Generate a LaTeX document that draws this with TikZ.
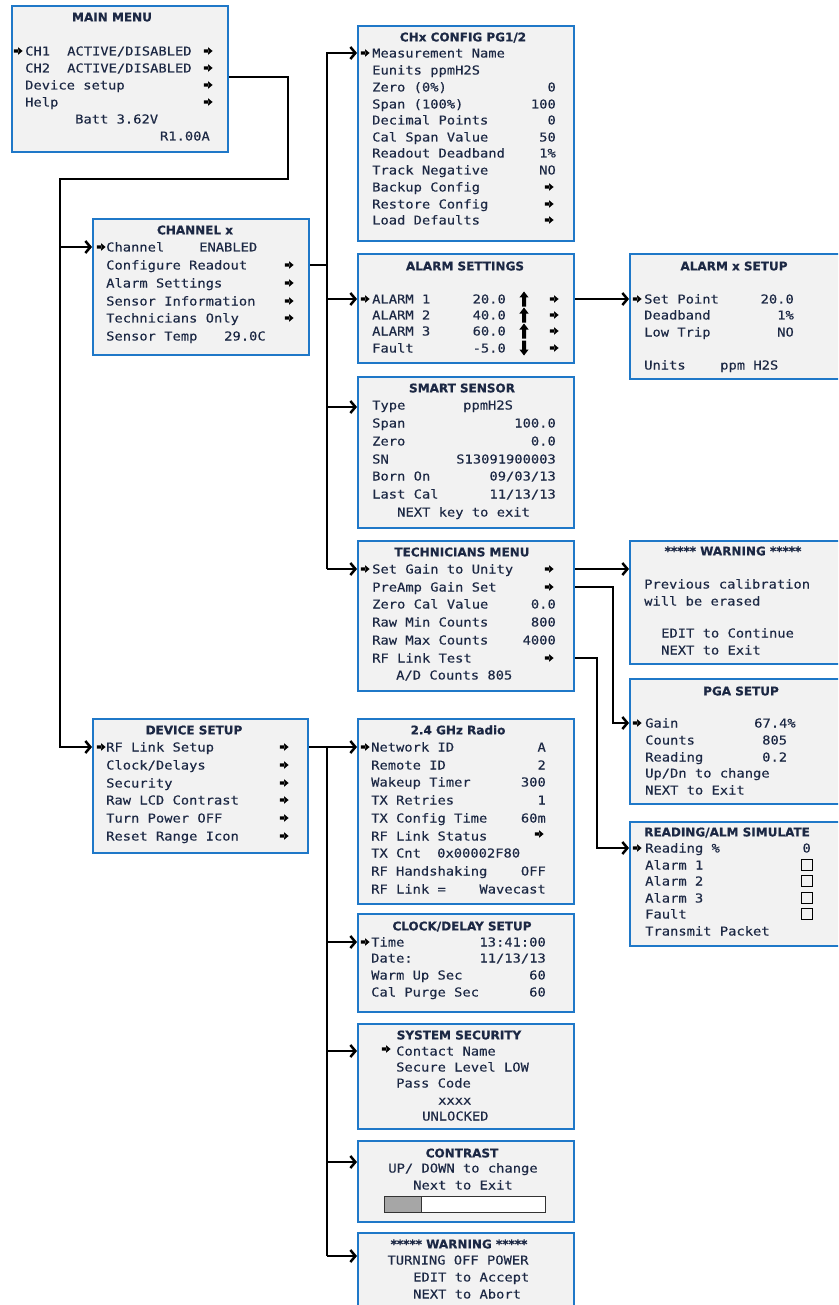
\documentclass[tikz,border=0pt]{standalone}
\usepackage{fontspec}
\usetikzlibrary{arrows.meta}
\newfontfamily\lcdf[FakeStretch=1.12,FakeBold=0.25]{DejaVu Sans Mono}
\newfontfamily\ttlf[BoldFeatures={FakeBold=0.6}]{DejaVu Sans}
\definecolor{txt}{HTML}{1C2844}
\definecolor{bord}{HTML}{1F78C8}
\definecolor{boxbg}{HTML}{F2F2F2}
\newcounter{tn}
\tikzset{
  menubox/.style={draw=bord, line width=2.4pt, fill=boxbg, anchor=north west, inner sep=0pt},
  lcd/.style={inner sep=0pt, text=txt, font=\lcdf\fontsize{12.3pt}{14pt}\selectfont},
  ttl/.style={inner sep=0pt, text=txt, font=\ttlf\bfseries\fontsize{12pt}{14pt}\selectfont},
  wire/.style={line width=2.5pt, black, line join=miter},
  conn/.style={wire, -{Straight Barb[length=5pt,width=12pt]}}
}
\newcommand\tx[3]{\stepcounter{tn}\node[lcd,anchor=base west] (t\arabic{tn}) at (#1,#2+4.5) {#3};}
\newcommand\tr[3]{\stepcounter{tn}\node[lcd,anchor=base east] (t\arabic{tn}) at (#1,#2+4.5) {#3};}
\newcommand\tc[3]{\stepcounter{tn}\node[lcd,anchor=base] (t\arabic{tn}) at (#1,#2+4.5) {#3};}
\newcommand\ttl[3]{\stepcounter{tn}\node[ttl,anchor=base] (t\arabic{tn}) at (#1,#2+4.4) {#3};}
\newcommand\ttlL[3]{\stepcounter{tn}\node[ttl,anchor=base west] (t\arabic{tn}) at (#1,#2+4.4) {#3};}
\newcommand\ar[2]{\fill[black] (#1-4.2,#2-1.7) rectangle (#1+0.5,#2+1.7) (#1,#2-3.8) -- (#1+4.6,#2) -- (#1,#2+3.8) -- cycle;}
\newcommand\upa[2]{\fill[black] (#1-2,#2+7.5) rectangle (#1+2,#2-1.5) (#1-4.6,#2-1.5) -- (#1,#2-7.5) -- (#1+4.6,#2-1.5) -- cycle;}
\newcommand\dna[2]{\fill[black] (#1-2,#2-7.5) rectangle (#1+2,#2+1.5) (#1-4.6,#2+1.5) -- (#1,#2+7.5) -- (#1+4.6,#2+1.5) -- cycle;}
\newcommand\cbx[2]{\draw[black, line width=0.8pt] (#1-5.5,#2-5.5) rectangle (#1+5.5,#2+5.5);}
\begin{document}
\begin{tikzpicture}[x=1pt,y=-1pt]
\useasboundingbox (0,0) rectangle (838,1305);
\clip (0,0) rectangle (838,1305);
\fill[white] (0,0) rectangle (838,1305);

% ---------- boxes ----------
\node[menubox, minimum width=216pt, minimum height=146pt] (main) at (11,5) {};
\node[menubox, minimum width=216pt, minimum height=136pt] (chan) at (92,218) {};
\node[menubox, minimum width=216pt, minimum height=215pt] (chx) at (357,25) {};
\node[menubox, minimum width=216pt, minimum height=109pt] (alarm) at (357,253) {};
\node[menubox, minimum width=216pt, minimum height=125pt] (alarmx) at (629,253) {};
\node[menubox, minimum width=216pt, minimum height=151pt] (smart) at (357,376) {};
\node[menubox, minimum width=216pt, minimum height=150pt] (tech) at (357,540) {};
\node[menubox, minimum width=216pt, minimum height=123pt] (warn) at (629,540) {};
\node[menubox, minimum width=216pt, minimum height=125pt] (pga) at (629,678) {};
\node[menubox, minimum width=216pt, minimum height=124pt] (rdg) at (629,821) {};
\node[menubox, minimum width=215pt, minimum height=134pt] (dev) at (92,718) {};
\node[menubox, minimum width=216pt, minimum height=185pt] (radio) at (357,718) {};
\node[menubox, minimum width=216pt, minimum height=98pt] (clock) at (357,913) {};
\node[menubox, minimum width=216pt, minimum height=105pt] (sec) at (357,1023) {};
\node[menubox, minimum width=216pt, minimum height=81pt] (contr) at (357,1140) {};
\node[menubox, minimum width=216pt, minimum height=85pt] (warn2) at (357,1232) {};

% ---------- connectors ----------
\coordinate (m1) at (288,77); \coordinate (m2) at (288,179);
\coordinate (m3) at (60,179); \coordinate (m4) at (60,747); \coordinate (m5) at (60,247);
\draw[conn] (main.east |- m1) -- (m1) -- (m2) -- (m3) -- (m4) -- (dev.west |- m4);
\draw[conn] (m5) -- (chan.west |- m5);

\coordinate (c0) at (327,265); \coordinate (c1) at (327,53); \coordinate (c2) at (327,299);
\coordinate (c3) at (327,407); \coordinate (c4) at (327,569);
\draw[wire] (chan.east |- c0) -- (c0);
\draw[conn] (c4) -- (c1) -- (chx.west |- c1);
\draw[conn] (c4) -- (tech.west |- c4);
\draw[conn] (c2) -- (alarm.west |- c2);
\draw[conn] (c3) -- (smart.west |- c3);
\draw[conn] (alarm.east |- c2) -- (alarmx.west |- c2);
\draw[conn] (tech.east |- c4) -- (warn.west |- c4);
\coordinate (p1) at (613,587); \coordinate (p2) at (613,723);
\draw[conn] (tech.east |- p1) -- (p1) -- (p2) -- (pga.west |- p2);
\coordinate (r1) at (597,658); \coordinate (r2) at (597,848);
\draw[conn] (tech.east |- r1) -- (r1) -- (r2) -- (rdg.west |- r2);

\coordinate (d0) at (327,747); \coordinate (d1) at (327,942); \coordinate (d2) at (327,1051);
\coordinate (d3) at (327,1162); \coordinate (d4) at (327,1256);
\draw[conn] (dev.east |- d0) -- (radio.west |- d0);
\draw[wire] (d0) -- (d4);
\draw[conn] (d1) -- (clock.west |- d1);
\draw[conn] (d2) -- (sec.west |- d2);
\draw[conn] (d3) -- (contr.west |- d3);
\draw[conn] (d4) -- (warn2.west |- d4);

% ---------- MAIN MENU ----------
\ttl{112}{17}{MAIN MENU}
\ar{18}{51}
\tx{25}{51}{CH1} \tx{67}{51}{ACTIVE/DISABLED} \ar{208}{51}
\tx{25}{68}{CH2} \tx{67}{68}{ACTIVE/DISABLED} \ar{208}{68}
\tx{25}{85}{Device setup} \ar{208}{85}
\tx{25}{102}{Help} \ar{208}{102}
\tx{75}{119}{Batt 3.62V}
\tr{210}{136}{R1.00A}

% ---------- CHANNEL x ----------
\ttl{195}{230}{CHANNEL x}
\ar{101}{247} \tx{106}{247}{Channel} \tx{199}{247}{ENABLED}
\tx{106}{265}{Configure Readout} \ar{289}{265}
\tx{106}{283}{Alarm Settings} \ar{289}{283}
\tx{106}{301}{Sensor Information} \ar{289}{301}
\tx{106}{318}{Technicians Only} \ar{289}{318}
\tx{106}{336}{Sensor Temp} \tx{224}{336}{29.0C}

% ---------- CHx CONFIG ----------
\ttl{463}{37}{CHx CONFIG PG1/2}
\ar{365}{53} \tx{372}{53}{Measurement Name}
\tx{372}{70}{Eunits ppmH2S}
\tx{372}{87}{Zero (0\%)} \tr{556}{87}{0}
\tx{372}{104}{Span (100\%)} \tr{556}{104}{100}
\tx{372}{120}{Decimal Points} \tr{556}{120}{0}
\tx{372}{137}{Cal Span Value} \tr{556}{137}{50}
\tx{372}{153}{Readout Deadband} \tr{556}{153}{1\%}
\tx{372}{170}{Track Negative} \tr{556}{170}{NO}
\tx{372}{187}{Backup Config} \ar{549}{187}
\tx{372}{204}{Restore Config} \ar{549}{204}
\tx{372}{220}{Load Defaults} \ar{549}{220}

% ---------- ALARM SETTINGS ----------
\ttl{465}{266}{ALARM SETTINGS}
\ar{365}{299} \tx{372}{299}{ALARM 1} \tr{506}{299}{20.0} \upa{524}{299} \ar{554}{299}
\tx{372}{315}{ALARM 2} \tr{506}{315}{40.0} \upa{524}{315} \ar{554}{315}
\tx{372}{331}{ALARM 3} \tr{506}{331}{60.0} \upa{524}{331} \ar{554}{331}
\tx{372}{348}{Fault} \tr{506}{348}{-5.0} \dna{524}{348} \ar{554}{348}

% ---------- ALARM x SETUP ----------
\ttl{734}{266}{ALARM x SETUP}
\ar{637}{299} \tx{644}{299}{Set Point} \tr{794}{299}{20.0}
\tx{644}{315}{Deadband} \tr{794}{315}{1\%}
\tx{644}{332}{Low Trip} \tr{794}{332}{NO}
\tx{644}{365}{Units} \tx{720}{365}{ppm H2S}

% ---------- SMART SENSOR ----------
\ttl{462}{388}{SMART SENSOR}
\tx{372}{405}{Type} \tx{463}{405}{ppmH2S}
\tx{372}{423}{Span} \tr{556}{423}{100.0}
\tx{372}{441}{Zero} \tr{556}{441}{0.0}
\tx{372}{459}{SN} \tr{556}{459}{S13091900003}
\tx{372}{476}{Born On} \tr{556}{476}{09/03/13}
\tx{372}{494}{Last Cal} \tr{556}{494}{11/13/13}
\tx{397}{512}{NEXT key to exit}

% ---------- TECHNICIANS MENU ----------
\ttl{462}{552}{TECHNICIANS MENU}
\ar{365}{569} \tx{372}{569}{Set Gain to Unity} \ar{549}{569}
\tx{372}{587}{PreAmp Gain Set} \ar{549}{587}
\tx{372}{604}{Zero Cal Value} \tr{556}{604}{0.0}
\tx{372}{622}{Raw Min Counts} \tr{556}{622}{800}
\tx{372}{640}{Raw Max Counts} \tr{556}{640}{4000}
\tx{372}{658}{RF Link Test} \ar{549}{658}
\tx{396}{675}{A/D Counts 805}

% ---------- WARNING ----------
\ttl{733}{551}{***** WARNING *****}
\tx{644}{584}{Previous calibration}
\tx{644}{601}{will be erased}
\tx{661}{633}{EDIT to Continue}
\tx{661}{650}{NEXT to Exit}

% ---------- PGA SETUP ----------
\ttl{741}{691}{PGA SETUP}
\ar{637}{723} \tx{645}{723}{Gain} \tx{754}{723}{67.4\%}
\tx{645}{740}{Counts} \tx{762}{740}{805}
\tx{645}{757}{Reading} \tx{762}{757}{0.2}
\tx{645}{773}{Up/Dn to change}
\tx{645}{790}{NEXT to Exit}

% ---------- READING/ALM SIMULATE ----------
\ttlL{644}{832}{READING/ALM SIMULATE}
\ar{637}{848} \tx{645}{848}{Reading \%} \tr{811}{848}{0}
\tx{645}{865}{Alarm 1} \cbx{807}{865}
\tx{645}{881}{Alarm 2} \cbx{807}{881}
\tx{645}{898}{Alarm 3} \cbx{807}{898}
\tx{645}{914}{Fault} \cbx{807}{914}
\tx{645}{931}{Transmit Packet}

% ---------- DEVICE SETUP ----------
\ttl{194}{730}{DEVICE SETUP}
\ar{101}{747} \tx{106}{747}{RF Link Setup} \ar{284}{747}
\tx{106}{765}{Clock/Delays} \ar{284}{765}
\tx{106}{783}{Security} \ar{284}{783}
\tx{106}{800}{Raw LCD Contrast} \ar{284}{800}
\tx{106}{818}{Turn Power OFF} \ar{284}{818}
\tx{106}{836}{Reset Range Icon} \ar{284}{836}

% ---------- 2.4 GHz Radio ----------
\ttl{458}{730}{2.4 GHz Radio}
\ar{365}{747} \tx{371}{747}{Network ID} \tr{546}{747}{A}
\tx{371}{765}{Remote ID} \tr{546}{765}{2}
\tx{371}{782}{Wakeup Timer} \tr{546}{782}{300}
\tx{371}{800}{TX Retries} \tr{546}{800}{1}
\tx{371}{818}{TX Config Time} \tr{546}{818}{60m}
\tx{371}{836}{RF Link Status} \ar{539}{834}
\tx{371}{853}{TX Cnt} \tx{437}{853}{0x00002F80}
\tx{371}{871}{RF Handshaking} \tr{546}{871}{OFF}
\tx{371}{889}{RF Link =} \tr{546}{889}{Wavecast}

% ---------- CLOCK/DELAY SETUP ----------
\ttl{462}{926}{CLOCK/DELAY SETUP}
\ar{365}{942} \tx{371}{942}{Time} \tr{546}{942}{13:41:00}
\tx{371}{958}{Date:} \tr{546}{958}{11/13/13}
\tx{371}{975}{Warm Up Sec} \tr{546}{975}{60}
\tx{371}{992}{Cal Purge Sec} \tr{546}{992}{60}

% ---------- SYSTEM SECURITY ----------
\ttl{459}{1035}{SYSTEM SECURITY}
\ar{386}{1049} \tx{396}{1051}{Contact Name}
\tx{396}{1067}{Secure Level LOW}
\tx{396}{1083}{Pass Code}
\tx{438}{1100}{xxxx}
\tx{422}{1116}{UNLOCKED}

% ---------- CONTRAST ----------
\ttl{462}{1153}{CONTRAST}
\tc{463}{1168}{UP/ DOWN to change}
\tc{463}{1185}{Next to Exit}
\draw[fill=white, draw=black!80, line width=1pt] (384,1196) rectangle (545,1212);
\draw[fill=black!35, draw=black!80, line width=1pt] (384,1196) rectangle (421,1212);

% ---------- WARNING (power) ----------
\ttl{459}{1244}{***** WARNING *****}
\tc{458}{1260}{TURNING OFF POWER}
\tx{413}{1277}{EDIT to Accept}
\tx{413}{1294}{NEXT to Abort}
\end{tikzpicture}
\end{document}
